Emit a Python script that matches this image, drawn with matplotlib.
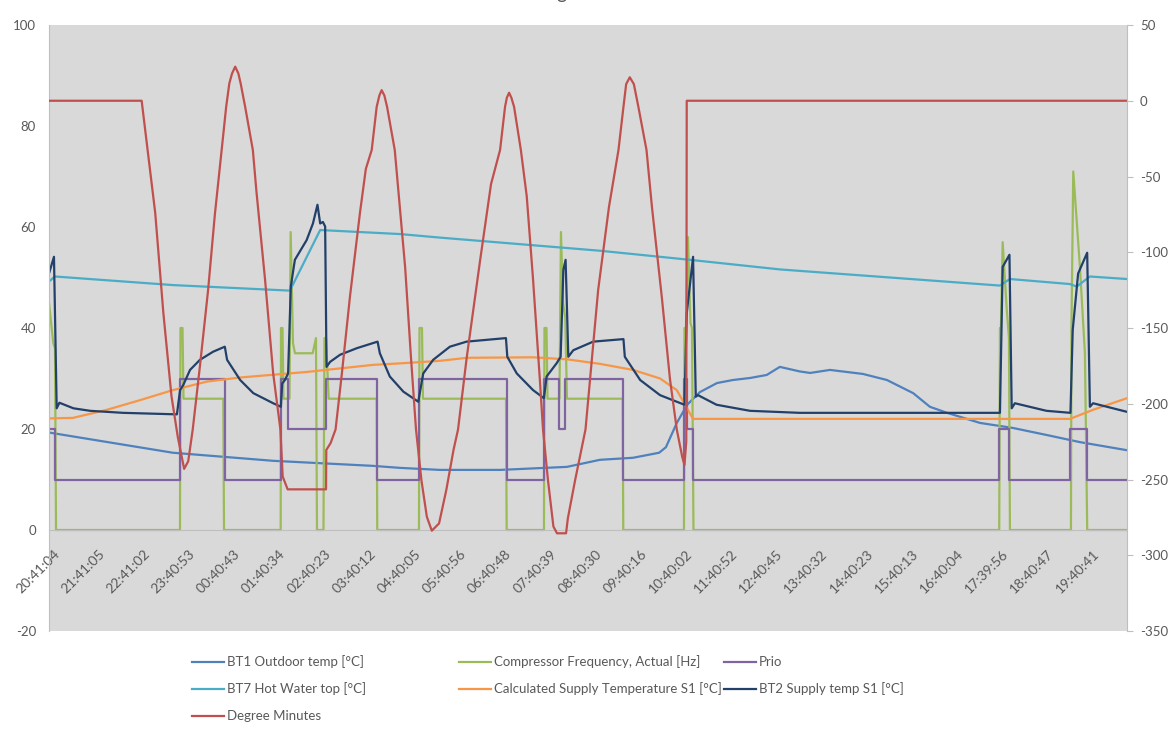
import matplotlib
matplotlib.use('Agg')
import matplotlib.pyplot as plt
from matplotlib.lines import Line2D

plt.rcParams['font.family'] = ['Lato', 'DejaVu Sans']
plt.rcParams['axes.unicode_minus'] = False

# ---------------- data (t = position along the time axis, in label steps) ----------------
time_labels = ['20:41:04', '21:41:05', '22:41:02', '23:40:53', '00:40:43', '01:40:34',
               '02:40:23', '03:40:12', '04:40:05', '05:40:56', '06:40:48', '07:40:39',
               '08:40:30', '09:40:16', '10:40:02', '11:40:52', '12:40:45', '13:40:32',
               '14:40:23', '15:40:13', '16:40:04', '17:39:56', '18:40:47', '19:40:41']

bt1_t = [0.00, 2.74, 4.96, 7.17, 7.77, 8.65, 9.98, 11.46, 12.19, 12.92, 13.50, 13.65, 13.89,
         14.12, 14.40, 14.78, 15.13, 15.51, 15.88, 16.17, 16.61, 16.84, 17.28, 18.01, 18.54,
         19.12, 19.49, 19.87, 20.60, 21.33, 22.08, 22.81, 23.85]
bt1_v = [19.3, 15.3, 13.7, 12.7, 12.3, 11.9, 11.9, 12.5, 13.9, 14.3, 15.3, 16.4, 21.2,
         24.8, 27.3, 29.1, 29.7, 30.1, 30.7, 32.3, 31.4, 31.1, 31.7, 30.9, 29.7,
         27.1, 24.4, 23.2, 21.2, 20.2, 18.8, 17.4, 15.8]

comp_t = [0.00, 0.095, 0.133, 0.155, 2.898, 2.909, 2.954, 2.976, 3.856, 3.872, 5.126, 5.133,
          5.166, 5.188, 5.321, 5.347, 5.398, 5.442, 5.834, 5.907, 5.929, 6.073, 6.095, 6.128,
          6.188, 7.250, 7.263, 8.186, 8.197, 8.252, 8.274, 10.111, 10.126, 10.951, 10.962,
          11.007, 11.029, 11.294, 11.327, 11.372, 11.423, 11.460, 12.692, 12.706, 14.049,
          14.060, 14.093, 14.137, 14.193, 14.226, 14.259, 21.024, 21.040, 21.062, 21.100,
          21.188, 21.239, 21.261, 22.611, 22.622, 22.662, 22.810, 22.920, 22.971, 23.85]
comp_v = [45, 37, 36, 0, 0, 40, 40, 26, 26, 0, 0, 40,
          40, 26, 26, 59, 37, 35, 35, 38, 0, 0, 38, 38,
          26, 26, 0, 0, 40, 40, 26, 26, 0, 0, 40,
          40, 26, 26, 59, 45, 42, 26, 26, 0, 0,
          40, 40, 58, 41, 40, 0, 0, 40, 40, 57,
          44, 38, 0, 0, 40, 71, 52, 35, 0, 0]

prio_t = [0.00, 0.13, 2.90, 3.89, 5.13, 5.29, 6.12, 7.25, 8.19, 10.13, 10.95, 11.29, 11.42,
          12.69, 14.06, 14.12, 14.25, 21.02, 21.24, 22.60, 22.97, 23.85]
prio_v = [20, 10, 30, 10, 30, 20, 30, 10, 30, 10, 30, 20, 30,
          10, 30, 20, 10, 20, 10, 20, 10, 10]

bt7_t = [0.00, 0.13, 2.74, 5.33, 6.00, 7.77, 8.65, 12.19, 14.18, 16.17, 21.04, 21.26,
         22.59, 22.74, 23.03, 23.85]
bt7_v = [49.2, 50.2, 48.5, 47.4, 59.4, 58.6, 57.9, 55.3, 53.5, 51.6, 48.4, 49.7,
         48.7, 48.2, 50.2, 49.7]

calc_t = [0.00, 0.53, 1.28, 2.01, 2.74, 3.50, 4.23, 5.71, 7.17, 7.77, 8.65, 9.25, 10.71,
          11.46, 12.19, 12.92, 13.52, 13.89, 14.18, 14.25, 22.59, 23.10, 23.85]
calc_v = [22.1, 22.2, 23.8, 25.7, 27.7, 29.4, 30.2, 31.3, 32.7, 33.0, 33.5, 34.1, 34.2,
          33.8, 32.9, 31.7, 30.0, 27.7, 23.1, 22.0, 22.0, 23.8, 26.1]

bt2_t = [0.00, 0.11, 0.17, 0.23, 0.54, 0.91, 1.64, 2.83, 2.90, 2.97, 3.12, 3.34, 3.63, 3.89,
         3.94, 4.23, 4.52, 4.96, 5.13, 5.16, 5.22, 5.29, 5.35, 5.44, 5.70, 5.84, 5.94, 6.00,
         6.06, 6.11, 6.14, 6.22, 6.44, 6.81, 7.27, 7.32, 7.54, 7.84, 8.17, 8.28, 8.50, 8.87,
         9.24, 10.11, 10.14, 10.35, 10.71, 10.95, 11.01, 11.23, 11.32, 11.38, 11.43, 11.49,
         11.60, 12.04, 12.71, 12.74, 13.08, 13.52, 14.06, 14.11, 14.25, 14.31, 14.36, 14.77,
         15.51, 16.61, 21.04, 21.10, 21.25, 21.30, 21.37, 22.07, 22.60, 22.65, 22.77, 22.97,
         23.03, 23.10, 23.85]
bt2_v = [50.8, 54.1, 24.1, 25.2, 24.1, 23.6, 23.2, 22.9, 27.7, 28.7, 31.7, 33.7, 35.3, 36.3,
         33.7, 29.7, 27.1, 25.1, 24.4, 29.0, 29.7, 31.0, 48.2, 53.5, 57.4, 60.7, 64.4, 60.7,
         61.0, 60.1, 32.3, 33.3, 34.7, 36.0, 37.3, 35.0, 30.4, 27.4, 25.4, 31.0, 33.7, 36.3,
         37.3, 38.0, 34.3, 31.0, 27.7, 26.1, 30.4, 33.0, 34.3, 51.5, 53.5, 34.3,
         35.6, 37.3, 37.8, 34.3, 29.7, 26.7, 24.8, 42.9, 54.1, 26.4, 26.7, 24.8,
         23.6, 23.2, 23.2, 52.1, 54.5, 24.1, 25.1, 23.6, 23.2, 39.6, 50.8, 54.9,
         24.4, 25.1, 23.4]

dm_t = [0.00, 2.05, 2.35, 2.53, 2.71, 2.85, 2.99, 3.08, 3.18, 3.34, 3.52, 3.67, 3.82, 3.92,
        3.99, 4.05, 4.12, 4.19, 4.24, 4.34, 4.51, 4.59, 4.78, 4.96, 5.12, 5.17, 5.28, 6.13,
        6.135, 6.23, 6.34, 6.48, 6.66, 6.88, 7.01, 7.14, 7.25, 7.31, 7.36, 7.42, 7.48, 7.65,
        7.88, 8.01, 8.12, 8.24, 8.36, 8.47, 8.63, 8.79, 8.95, 9.05, 9.24, 9.54, 9.78, 9.98,
        10.09, 10.13, 10.18, 10.23, 10.29, 10.44, 10.57, 10.71, 10.86, 10.93, 11.04, 11.16,
        11.24, 11.44, 11.48, 11.64, 11.87, 12.15, 12.39, 12.60, 12.71, 12.77, 12.85, 12.94,
        13.04, 13.22, 13.34, 13.56, 13.74, 13.89, 14.01, 14.06, 14.10, 14.11, 23.85]
dm_v = [0, 0, -74, -140, -195, -222, -243, -238, -217, -175, -125, -75, -32.5, -4,
        11.5, 18, 22.5, 18, 11.5, -4, -32.5, -60, -118, -180, -217, -248, -256.5, -256.5,
        -230.5, -226, -217, -180, -129, -74, -45, -32.5, -4, 3.5, 7, 3.5, -4, -32.5,
        -110, -170, -217, -250.5, -274.6, -283.8, -279, -257, -230.5, -217, -170, -105, -55, -32.5,
        -4, 2, 5.3, 2, -4, -32.5, -63, -118, -184, -217, -250.5, -281,
        -285.5, -285.5, -275.6, -250.5, -217, -125, -70, -32.5, -4, 11, 15.5, 11,
        -4, -32.5, -70, -130, -184, -217, -235, -240.4, -225, 0, 0]

series_names = ['BT1 Outdoor temp [°C]', 'Compressor Frequency, Actual [Hz]', 'Prio',
                'BT7 Hot Water top [°C]', 'Calculated Supply Temperature S1 [°C]',
                'BT2 Supply temp S1 [°C]', 'Degree Minutes']
series_colors = ['#4F81BD', '#9BBB59', '#8064A2', '#4BACC6', '#F79646', '#22406A', '#C0504D']

left_ticks = [-20, 0, 20, 40, 60, 80, 100]
right_ticks = [-350, -300, -250, -200, -150, -100, -50, 0, 50]

# ---------------- figure ----------------
W, H = 1174, 736
fig = plt.figure(figsize=(W / 100, H / 100), dpi=100)
L, R, T, B = 49, 1126.5, 25, 631
ax = fig.add_axes([L / W, 1 - B / H, (R - L) / W, (B - T) / H])
ax.set_facecolor('#D9D9D9')
ax2 = ax.twinx()

lw = 1.6
ax.plot(bt1_t, bt1_v, color=series_colors[0], lw=lw)
ax.plot(comp_t, comp_v, color=series_colors[1], lw=lw)
ax.plot(prio_t, prio_v, color=series_colors[2], lw=lw, drawstyle='steps-post')
ax.plot(bt7_t, bt7_v, color=series_colors[3], lw=lw)
ax.plot(calc_t, calc_v, color=series_colors[4], lw=lw)
ax.plot(bt2_t, bt2_v, color=series_colors[5], lw=lw)
ax2.plot(dm_t, dm_v, color=series_colors[6], lw=lw)

gray = '#BFBFBF'
txt = '#595959'

ax.tick_params(axis='x', length=0, pad=13, labelsize=10, labelcolor=txt, labelrotation=45)
ax.tick_params(axis='y', length=0, pad=9.4, labelsize=9.5, labelcolor=txt)
ax2.tick_params(axis='y', length=4.3, width=0.8, color=gray, pad=5.3, labelsize=9.5,
                labelcolor=txt)

ax.set_xlim(0, 23.84)
ax.set_ylim(-20, 100)
ax2.set_ylim(-350, 50)
ax.set_yticks(left_ticks)
ax2.set_yticks(right_ticks)
label_shift = 0.09   # Excel puts the end of each slanted label slightly right of its point
ax.set_xticks([i + label_shift for i in range(len(time_labels))])
ax.set_xticklabels(time_labels)

for s in ['top', 'right']:
    ax.spines[s].set_visible(False)
ax.spines['left'].set_color(gray)
ax.spines['bottom'].set_color(gray)
ax.spines['bottom'].set_position(('data', 0))
for s in ['top', 'bottom', 'left']:
    ax2.spines[s].set_visible(False)
ax2.spines['right'].set_color(gray)

for lbl in ax.get_xticklabels():
    lbl.set_rotation(45)
    lbl.set_ha('right')
    lbl.set_va('top')
    lbl.set_rotation_mode('anchor')

# cut-off title remnant at the very top
fig.text(561 / W, 1 + 1 / H, 'g', ha='center', va='baseline', fontsize=14, color=txt)

# ---------------- legend (Excel-like grid below the plot) ----------------
col_x = [192, 459, 724]
row_y = [662, 689, 716]
slots = [(0, 0), (0, 1), (0, 2), (1, 0), (1, 1), (1, 2), (2, 0)]
for name, color, (r, c) in zip(series_names, series_colors, slots):
    x0 = col_x[c]
    y = 1 - row_y[r] / H
    fig.add_artist(Line2D([x0 / W, (x0 + 32) / W], [y, y], color=color, lw=lw,
                          transform=fig.transFigure))
    fig.text((x0 + 35) / W, y, name, ha='left', va='center', fontsize=9.5, color=txt)

fig.savefig('out.png', dpi=100)
